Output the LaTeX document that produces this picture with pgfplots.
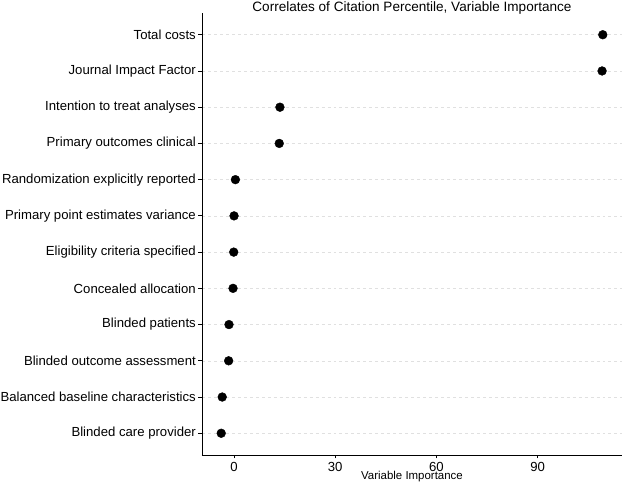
\documentclass[border=0pt]{standalone}
\usepackage{fontspec}
\setmainfont{Liberation Sans}
\usepackage{pgfplots}
\pgfplotsset{compat=1.18}
\begin{document}
\begin{tikzpicture}
\begin{axis}[
  at={(0,0)}, anchor=south west,
  scale only axis, width=420bp, height=442bp,
  xmin=-9.5, xmax=115, ymin=0.4, ymax=12.6,
  axis x line*=bottom, axis y line*=left,
  axis line style={line width=0.9bp, black, -},
  xtick={0,30,60,90},
  ytick={1,2,3,4,5,6,7,8,9,10,11,12},
  yticklabels={Blinded care provider, Balanced baseline characteristics, Blinded outcome assessment, Blinded patients, Concealed allocation, Eligibility criteria specified, Primary point estimates variance, Randomization explicitly reported, Primary outcomes clinical, Intention to treat analyses, Journal Impact Factor, Total costs},
  tick align=outside, major tick length=3.5bp,
  tick style={black, line width=0.8bp},
  ymajorgrids, grid style={dashed, black!12, line width=0.5bp},
  /pgf/number format/assume math mode=true,
  tick label style={font=\fontsize{13.2}{15}\selectfont, text=black},
  yticklabel style={inner sep=0pt, anchor=east, xshift=-2.5bp},
  xticklabel style={inner sep=0pt, anchor=base, yshift=-12.5bp},
  xlabel={Variable Importance},
  xlabel style={font=\fontsize{11.5}{13}\selectfont, at={(axis description cs:0.5,0)}, anchor=base, yshift=-24.5bp, inner sep=0pt},
  title={Correlates of Citation Percentile, Variable Importance},
  title style={font=\fontsize{13.6}{16}\selectfont, at={(axis description cs:0.5,1)}, anchor=base, yshift=-4bp, inner sep=0pt},
  clip=false,
]
\addplot[only marks, mark=*, mark size=4.4bp, black] coordinates {
  (-3.8,1) (-3.5,2) (-1.6,3) (-1.5,4) (-0.3,5) (-0.1,6)
  (0.0,7) (0.4,8) (13.4,9) (13.6,10) (109.1,11) (109.3,12)
};
\end{axis}
\pgfresetboundingbox
\path[use as bounding box] (-202bp,-30bp) rectangle (420bp,455bp);
\end{tikzpicture}
\end{document}
